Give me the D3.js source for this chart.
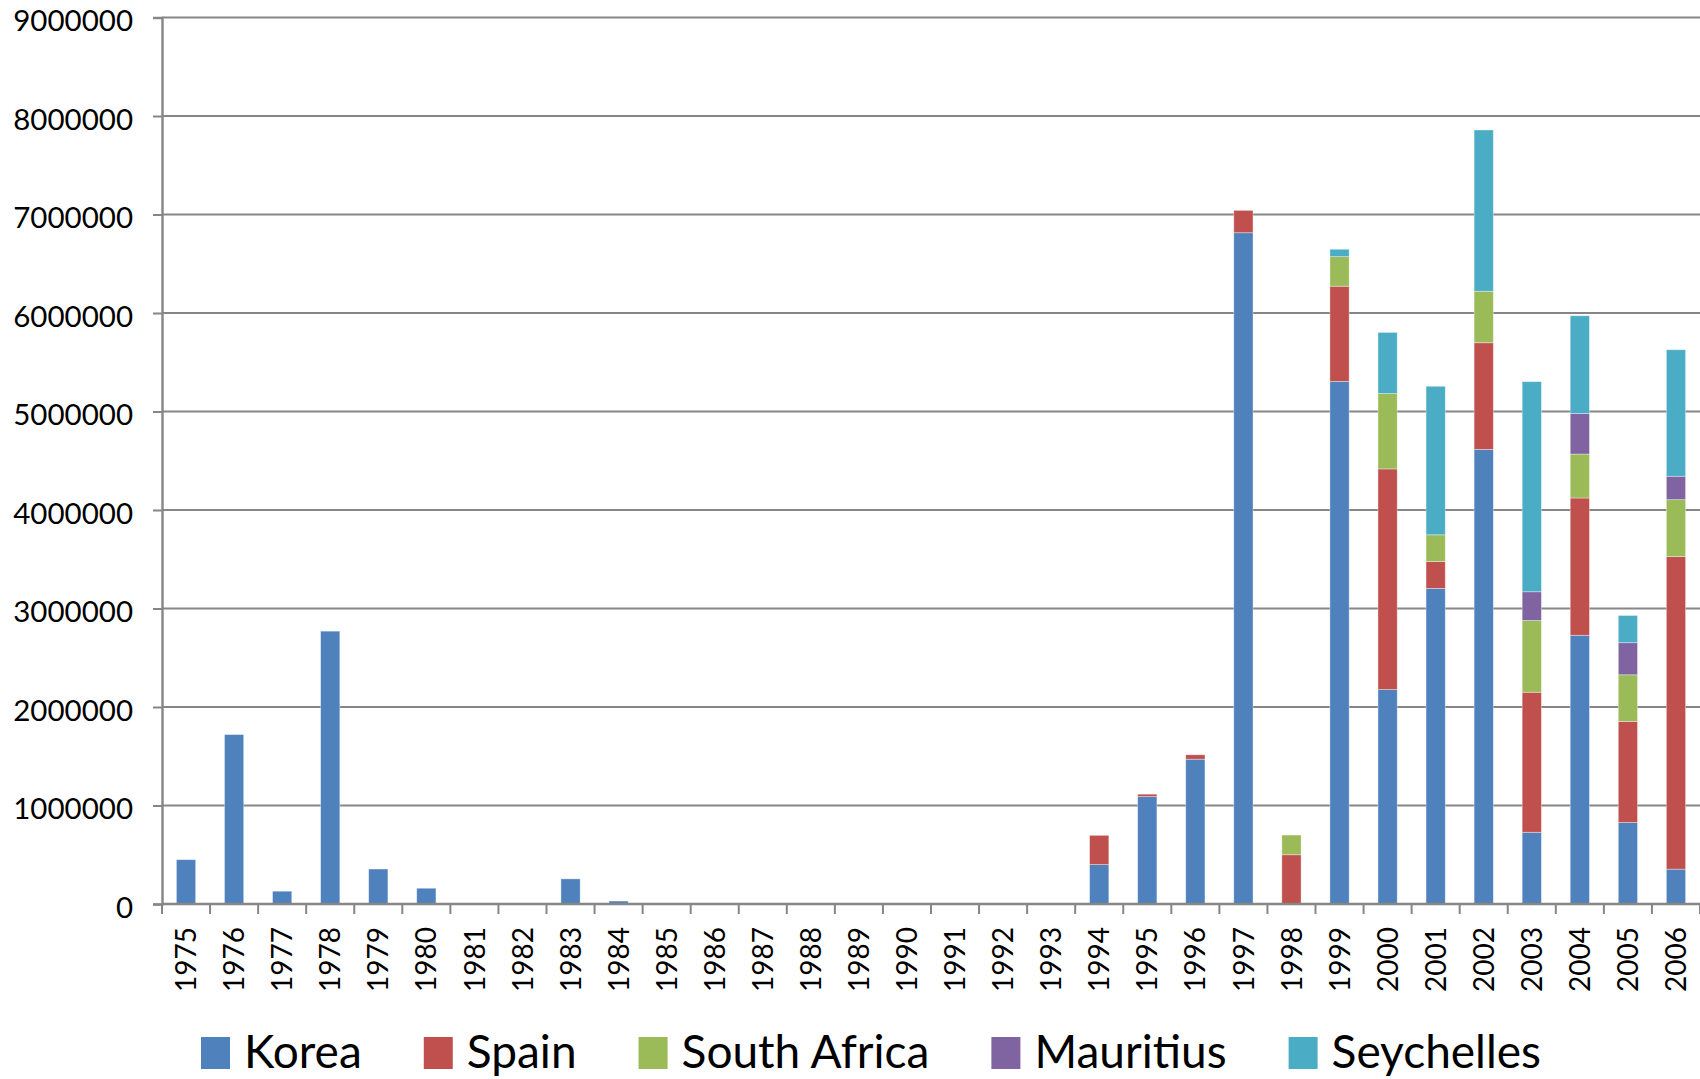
<!DOCTYPE html>
<html>
<head>
<meta charset="utf-8">
<script src="https://cdn.jsdelivr.net/npm/d3@7"></script>
<style>
  body { margin: 0; background: #fff; }
  svg { display: block; }
  svg text { font-family: Lato, "Open Sans", sans-serif; }
</style>
</head>
<body>
<svg id="chart"></svg>
<script>
var width = 1700, height = 1079;

// data (segment values per country)
var years = d3.range(1975, 2007).map(String);
var korea = [450000, 1720000, 130000, 2770000, 355000, 160000, 0, 0, 255000, 30000,
  0, 0, 0, 0, 0, 0, 0, 0, 0, 400000, 1090000, 1470000, 6815000, 0, 5305000,
  2177000, 3204000, 4615000, 728000, 2728000, 827000, 354000];
var spain = [0, 0, 0, 0, 0, 0, 0, 0, 0, 0,
  0, 0, 0, 0, 0, 0, 0, 0, 0, 297000, 25000, 45000, 227000, 500000, 967000,
  2240000, 272000, 1083000, 1422000, 1394000, 1027000, 3173000];
var southAfrica = [0, 0, 0, 0, 0, 0, 0, 0, 0, 0,
  0, 0, 0, 0, 0, 0, 0, 0, 0, 0, 0, 0, 0, 200000, 300000,
  765000, 272000, 523000, 728000, 446000, 473000, 578000];
var mauritius = [0, 0, 0, 0, 0, 0, 0, 0, 0, 0,
  0, 0, 0, 0, 0, 0, 0, 0, 0, 0, 0, 0, 0, 0, 0,
  0, 0, 0, 292000, 411000, 326000, 238000];
var seychelles = [0, 0, 0, 0, 0, 0, 0, 0, 0, 0,
  0, 0, 0, 0, 0, 0, 0, 0, 0, 0, 0, 0, 0, 0, 75000,
  621000, 1508000, 1637000, 2133000, 993000, 276000, 1284000];
var seriesNames = ["Korea", "Spain", "South Africa", "Mauritius", "Seychelles"];
var seriesColors = ["#4F81BD", "#C0504D", "#9BBB59", "#8064A2", "#4BACC6"];
var yTicks = d3.range(0, 9000001, 1000000);

var rows = years.map((yr, i) => ({
  year: yr,
  "Korea": korea[i],
  "Spain": spain[i],
  "South Africa": southAfrica[i],
  "Mauritius": mauritius[i],
  "Seychelles": seychelles[i]
}));

var plotLeft = 162, plotRight = 1700, plotTop = 17.5, plotBottom = 904;

var svg = d3.select("#chart")
    .attr("width", width)
    .attr("height", height);

var x = d3.scaleBand()
    .domain(years)
    .range([plotLeft, plotRight])
    .paddingInner(0.6)
    .paddingOuter(0.3);

var y = d3.scaleLinear()
    .domain([0, 9000000])
    .range([plotBottom, plotTop]);

var color = d3.scaleOrdinal()
    .domain(seriesNames)
    .range(seriesColors);

// gridlines
svg.append("g")
  .selectAll("line")
  .data(yTicks.filter(d => d > 0))
  .enter()
  .append("line")
    .attr("x1", plotLeft)
    .attr("x2", plotRight)
    .attr("y1", d => y(d))
    .attr("y2", d => y(d))
    .attr("stroke", "#868686")
    .attr("stroke-width", 2);

// stacked bars
var stacked = d3.stack().keys(seriesNames)(rows);

svg.append("g")
  .selectAll("g")
  .data(stacked)
  .enter()
  .append("g")
    .attr("fill", d => color(d.key))
  .selectAll("rect")
  .data(d => d.filter(s => s[1] - s[0] > 0))
  .enter()
  .append("rect")
    .attr("x", d => x(d.data.year))
    .attr("width", x.bandwidth())
    .attr("y", d => y(d[1]))
    .attr("height", d => y(d[0]) - y(d[1]))
    .attr("stroke", "rgba(255,255,255,0.45)")
    .attr("stroke-width", 0.8);

// y axis
var yAxis = svg.append("g")
    .attr("transform", `translate(${plotLeft},0)`)
    .call(d3.axisLeft(y).tickValues(yTicks).tickFormat(d3.format("d")).tickSize(9).tickPadding(20));
yAxis.select(".domain").attr("stroke", "#868686").attr("stroke-width", 2.4);
yAxis.selectAll(".tick line").attr("stroke", "#868686").attr("stroke-width", 2);
yAxis.selectAll("text")
    .attr("fill", "#000")
    .style("font-size", "29.5px")
    .attr("dy", "0.45em");

// x axis: labels at band centers, ticks at band boundaries
var step = x.step();
var bounds = years.map(yr => x(yr) + x.bandwidth() / 2 - step / 2).concat([plotRight]);

var xAxis = svg.append("g")
    .attr("transform", `translate(0,${plotBottom})`)
    .call(d3.axisBottom(x).tickSize(0).tickSizeOuter(0));
xAxis.select(".domain").remove();
xAxis.selectAll("text")
    .attr("fill", "#000")
    .style("font-size", "28px")
    .attr("text-anchor", "end")
    .attr("transform", "rotate(-90)")
    .attr("x", -23)
    .attr("y", 0)
    .attr("dy", "0.36em");

svg.append("g")
  .selectAll("line")
  .data(bounds)
  .enter()
  .append("line")
    .attr("x1", d => d)
    .attr("x2", d => d)
    .attr("y1", plotBottom)
    .attr("y2", plotBottom + 10)
    .attr("stroke", "#868686")
    .attr("stroke-width", 2);

svg.append("line")
    .attr("x1", plotLeft)
    .attr("x2", plotRight)
    .attr("y1", plotBottom)
    .attr("y2", plotBottom)
    .attr("stroke", "#868686")
    .attr("stroke-width", 2.4);

// legend
var legend = svg.append("g").attr("class", "legend");
var lx = 201;
seriesNames.forEach(name => {
  var item = legend.append("g").attr("transform", `translate(${lx},0)`);
  item.append("rect")
      .attr("x", 0)
      .attr("y", 1037)
      .attr("width", 29)
      .attr("height", 32)
      .attr("fill", color(name));
  var t = item.append("text")
      .attr("x", 43)
      .attr("y", 1068)
      .style("font-size", "46px")
      .text(name);
  lx += 43 + t.node().getComputedTextLength() + 62;
});
</script>
</body>
</html>
